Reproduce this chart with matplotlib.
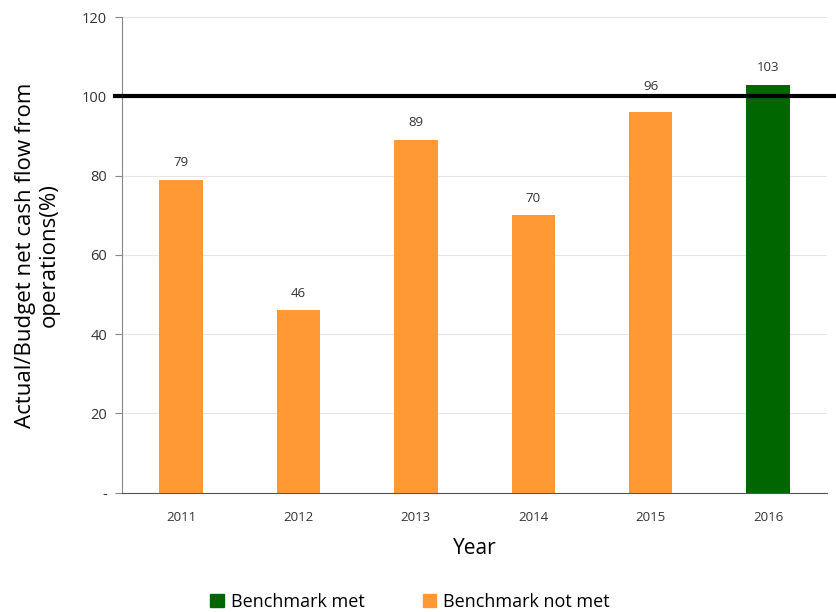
import matplotlib
matplotlib.use('Agg')
import matplotlib.pyplot as plt
from matplotlib.patches import Patch

years = ['2011', '2012', '2013', '2014', '2015', '2016']
values = [79, 46, 89, 70, 96, 103]
benchmark = 100
y_ticks = [0, 20, 40, 60, 80, 100, 120]
y_labels = ['-', '20', '40', '60', '80', '100', '120']

orange = '#FF9933'
green = '#006600'

plt.rcParams['font.family'] = ['Open Sans', 'DejaVu Sans']

fig = plt.figure(figsize=(8.37, 6.12), dpi=100)
ax = fig.add_axes([0.146, 0.195, 0.842, 0.777])

colors = [green if v >= benchmark else orange for v in values]
x = range(len(years))
ax.bar(x, values, width=0.37, color=colors, zorder=2)

# value labels; the one that would sit on the benchmark line is lifted above it
for i, v in enumerate(values):
    y = v + 4.3
    if v < benchmark and y > benchmark - 3:
        y = benchmark + 2.5
    ax.text(i, y, str(v), ha='center', va='center', fontsize=9.5, color='#333333')

ax.axhline(benchmark, xmin=-0.01, xmax=1.01, color='black', linewidth=3, clip_on=False, zorder=3)

ax.set_xlim(-0.5, len(years) - 0.5)
ax.set_ylim(0, 120)
ax.set_xticks(list(x))
ax.set_xticklabels(years, fontsize=9.5, color='#333333')
ax.set_yticks(y_ticks)
ax.set_yticklabels(y_labels, fontsize=10.5, color='#333333')
ax.tick_params(axis='x', length=0, pad=13)
ax.tick_params(axis='y', length=5, color='#888888', pad=6)
ax.grid(axis='y', color='#e6e6e6', linewidth=0.8, zorder=0)

for s in ['top', 'right']:
    ax.spines[s].set_visible(False)
ax.spines['left'].set_color('#888888')
ax.spines['bottom'].set_color('#555555')

ax.set_xlabel('Year', fontsize=15, labelpad=10)
ax.set_ylabel('Actual/Budget net cash flow from\noperations(%)', fontsize=16)
ax.yaxis.set_label_coords(-0.088, 0.5)

handles = [Patch(color=green, label='Benchmark met'), Patch(color=orange, label='Benchmark not met')]
fig.legend(handles=handles, loc='lower center', bbox_to_anchor=(0.49, -0.025), ncol=2,
           frameon=False, fontsize=13, handlelength=0.75, handleheight=0.75,
           handletextpad=0.4, columnspacing=3.2)

fig.savefig('out.png', dpi=100)
